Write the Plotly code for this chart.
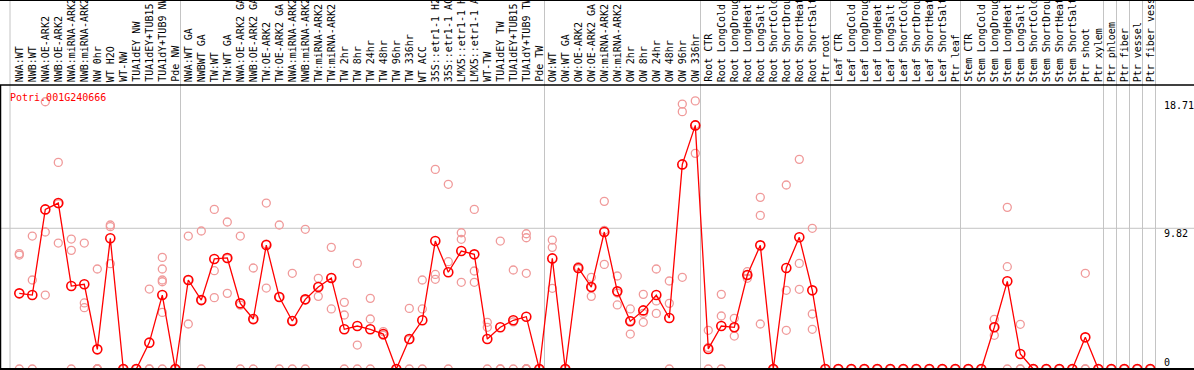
import plotly.graph_objects as go

categories = [
    "NWA:WT", "NWB:WT", "NWA:OE-ARK2", "NWB:OE-ARK2", "NWA:miRNA-ARK2", "NWB:miRNA-ARK2",
    "NW 0hr", "WT H2O", "WT-NW", "TUA1dEY NW", "TUA1dEY+TUB15 NW", "TUA1dY+TUB9 NW", "Pde NW",
    "NWA:WT GA", "NWBWT GA", "TW:WT", "TW:WT GA", "NWA:OE-ARK2 GA", "NWB:OE-ARK2 GA",
    "TW:OE-ARK2", "TW:OE-ARK2 GA", "NWA:miRNA-ARK2", "NWB:miRNA-ARK2", "TW:miRNA-ARK2",
    "TW:miRNA-ARK2", "TW 2hr", "TW 8hr", "TW 24hr", "TW 48hr", "TW 96hr", "TW 336hr",
    "WT ACC", "35S::etr1-1 H2O", "35S::etr1-1 ACC", "LMX5::etr1-1 H2O", "LMX5::etr1-1 ACC",
    "WT-TW", "TUA1dEY TW", "TUA1dEY+TUB15 TW", "TUA1dY+TUB9 TW", "Pde TW",
    "OW:WT", "OW:WT GA", "OW:OE-ARK2", "OW:OE-ARK2 GA", "OW:miRNA-ARK2", "OW:miRNA-ARK2",
    "OW 2hr", "OW 8hr", "OW 24hr", "OW 48hr", "OW 96hr", "OW 336hr",
    "Root CTR", "Root LongCold", "Root LongDrought", "Root LongHeat", "Root LongSalt",
    "Root ShortCold", "Root ShortDrought", "Root ShortHeat", "Root ShortSalt", "Ptr root",
    "Leaf CTR", "Leaf LongCold", "Leaf LongDrought", "Leaf LongHeat", "Leaf LongSalt",
    "Leaf ShortCold", "Leaf ShortDrought", "Leaf ShortHeat", "Leaf ShortSalt", "Ptr leaf",
    "Stem CTR", "Stem LongCold", "Stem LongDrought", "Stem LongHeat", "Stem LongSalt",
    "Stem ShortCold", "Stem ShortDrought", "Stem ShortHeat", "Stem ShortSalt", "Ptr shoot",
    "Ptr xylem", "Ptr phloem", "Ptr fiber", "Ptr vessel", "Ptr fiber vessel",
]

means = [
    5.28, 5.16, 11.14, 11.58, 5.79, 5.91, 1.37, 9.12, 0, 0, 1.84, 5.16, 0,
    6.21, 4.81, 7.68, 7.75, 4.58, 3.49, 8.65, 5.02, 3.35, 4.86, 5.72, 6.35,
    2.77, 3.00, 2.77, 2.44, 0, 2.09, 3.40, 8.93, 6.75, 8.23, 8.00, 2.09, 2.91, 3.40, 3.65, 0,
    7.72, 0, 7.05, 5.72, 9.56, 5.42, 3.33, 4.09, 5.16, 3.56, 14.28, 17.00,
    1.40, 3.00, 2.91, 6.56, 8.63, 0, 7.05, 9.19, 5.49, 0,
    0, 0, 0, 0, 0, 0, 0, 0, 0, 0,
    0, 0, 2.91, 6.12, 1.05, 0, 0, 0, 0, 2.21,
    0, 0, 0, 0, 0,
]

replicates = [
    [7.95, 8.05, 0], [9.28, 6.21, 0], [18.65, 9.56, 5.16], [14.42, 8.79, 11.53],
    [9.07, 8.28, 0], [8.79, 4.61, 4.28], [6.98, 0, 0, 0, 0], [10.05, 9.93, 7.35],
    [0, 0, 0], [0, 0, 0], [5.58, 0, 0], [7.79, 6.98, 6.21, 6.09, 3.95, 0], [0, 0, 0],
    [9.28, 3.14, 6.21], [9.63, 4.80, 0], [11.14, 6.86, 4.98], [10.26, 5.28, 7.71],
    [9.28, 4.46, 0], [7.05, 3.42, 0], [11.58, 5.65, 8.72], [10.05, 5.01, 0],
    [6.68, 3.37, 0], [9.75, 4.83, 0], [6.33, 5.07, 5.76], [8.49, 4.19, 6.37],
    [4.65, 3.77, 0], [7.37, 1.67, 0], [4.93, 3.49, 0], [2.61, 2.37, 2.34], [0, 0, 0],
    [4.23, 2.04, 0], [6.21, 4.19, 0], [13.93, 6.60, 6.26], [12.89, 7.49, 0],
    [9.51, 9.05, 6.05], [11.14, 6.84, 6.05], [3.26, 2.91, 0], [8.93, 0, 0],
    [6.91, 3.29, 0], [9.44, 9.16, 6.68, 0, 0, 0, 0], [0, 0, 0],
    [9.00, 8.49, 5.63], [0, 0, 0], [7.14, 7.00, 7.00], [6.40, 5.07, 5.70],
    [11.70, 7.30, 9.68], [6.49, 4.47, 5.30], [4.19, 2.44, 3.36], [5.21, 3.88, 3.26],
    [6.98, 4.75, 3.88], [6.14, 4.58, 0], [18.49, 17.96, 6.40], [18.71, 15.05, 17.06],
    [2.70, 1.50, 0], [5.21, 3.70, 0], [3.54, 2.30, 2.89], [6.79, 6.33, 6.56],
    [11.98, 10.72, 3.14], [0, 0, 0], [12.84, 5.49, 2.70], [14.63, 7.37, 5.56],
    [9.82, 3.84, 2.77], [0, 0, 0],
    [0, 0, 0], [0, 0, 0], [0, 0, 0], [0, 0, 0], [0, 0, 0],
    [0, 0, 0], [0, 0, 0], [0, 0, 0], [0, 0, 0], [0, 0, 0],
    [0, 0, 0], [0, 0, 0], [3.47, 2.35, 2.90], [11.28, 7.14, 0], [3.12, 0, 0],
    [0, 0, 0], [0, 0, 0], [0, 0, 0], [0, 0, 0], [6.68, 0, 0],
    [0, 0, 0], [0, 0, 0], [0, 0, 0], [0, 0, 0], [0, 0, 0],
]

group_ends = [12, 40, 52, 62, 72, 83, 84, 85, 86, 87]
axis_labels = ["18.71", "9.82", "0"]
axis_values = [18.71, 9.82, 0]
title = "Potri.001G240666"

W, H = 1194, 370
TOP, BOT = 85, 369
PH = BOT - TOP
YMAX = 19.82
PX_PER = 13.0
X0 = -19.3 / PX_PER
X1 = X0 + W / PX_PER
FONT = "DejaVu Sans Mono"


def py_to_paper(py):
    return (BOT - py) / PH


rx, ry = [], []
for i, reps in enumerate(replicates):
    for v in reps:
        rx.append(i)
        ry.append(v)

fig = go.Figure()
fig.add_trace(go.Scatter(
    x=rx, y=ry, mode="markers",
    marker=dict(symbol="circle-open", size=8, color="#f09a9a", line=dict(width=1.3, color="#f09a9a")),
    hoverinfo="skip", showlegend=False,
))
fig.add_trace(go.Scatter(
    x=list(range(len(means))), y=means, mode="lines+markers",
    line=dict(color="#ff0000", width=1.3),
    marker=dict(symbol="circle-open", size=9, color="#ff0000", line=dict(width=1.6, color="#ff0000")),
    showlegend=False,
))

shapes = []
sep_x = [-0.715] + [k + 0.4 for k in group_ends]
for sx in sep_x:
    shapes.append(dict(type="line", xref="x", yref="paper", x0=sx, x1=sx, y0=0, y1=py_to_paper(0),
                       line=dict(color="#c4c4c4", width=1), layer="below"))
shapes.append(dict(type="line", xref="paper", yref="y", x0=0, x1=1, y0=9.82, y1=9.82,
                   line=dict(color="#c4c4c4", width=1), layer="below"))
# frame lines
shapes.append(dict(type="line", xref="paper", yref="paper", x0=0, x1=1, y0=1, y1=1,
                   line=dict(color="black", width=1.5)))
shapes.append(dict(type="line", xref="paper", yref="paper", x0=0, x1=1, y0=0, y1=0,
                   line=dict(color="black", width=2)))
shapes.append(dict(type="line", xref="paper", yref="paper", x0=0.5 / W, x1=0.5 / W, y0=0, y1=1,
                   line=dict(color="black", width=1.5)))
shapes.append(dict(type="line", xref="paper", yref="paper", x0=0, x1=1,
                   y0=py_to_paper(0.5), y1=py_to_paper(0.5),
                   line=dict(color="black", width=1)))

annotations = []
for i, c in enumerate(categories):
    annotations.append(dict(
        x=i, xref="x", y=py_to_paper(83), yref="paper", text=c, textangle=-90,
        xanchor="center", yanchor="bottom", showarrow=False, borderpad=0,
        font=dict(family=FONT, size=10, color="black"),
    ))
for lab, val in zip(axis_labels, axis_values):
    py = BOT - val * PH / YMAX
    if val == 0:
        py_c = 362
    else:
        py_c = py + 5
    annotations.append(dict(
        x=1163 / W, xref="paper", y=py_to_paper(py_c), yref="paper", text=lab,
        xanchor="left", yanchor="middle", showarrow=False, borderpad=0,
        font=dict(family=FONT, size=10, color="black"),
    ))
annotations.append(dict(
    x=9 / W, xref="paper", y=py_to_paper(97), yref="paper", text=title,
    xanchor="left", yanchor="middle", showarrow=False, borderpad=0,
    font=dict(family=FONT, size=10, color="#ff0000"),
))

fig.update_layout(
    width=W, height=H,
    margin=dict(l=0, r=0, t=TOP, b=H - BOT, pad=0),
    paper_bgcolor="white", plot_bgcolor="white",
    xaxis=dict(range=[X0, X1], visible=False, showgrid=False, zeroline=False),
    yaxis=dict(range=[0, YMAX], visible=False, showgrid=False, zeroline=False),
    shapes=shapes, annotations=annotations,
)

fig.write_html(
    "out.html",
    config={"displayModeBar": False},
    post_script="document.body.style.margin='0';document.body.style.padding='0';"
                "document.documentElement.style.overflow='hidden';",
)
